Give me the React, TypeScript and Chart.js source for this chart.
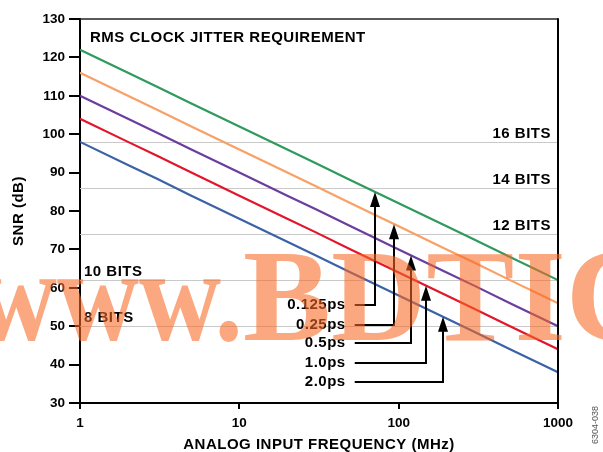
import React, { useEffect, useRef } from 'react';
import { Chart, registerables } from 'chart.js';

Chart.register(...registerables);

// ---------- data ----------
const freqs = [1, 2, 3, 5, 10, 20, 30, 50, 100, 200, 300, 500, 1000];
const jitterLabels = ['0.125ps', '0.25ps', '0.5ps', '1.0ps', '2.0ps'];
const snr0125 = [122, 116, 112.5, 108, 102, 96, 92.5, 88, 82, 76, 72.5, 68, 62];
const snr025 = [116, 110, 106.5, 102, 96, 90, 86.5, 82, 76, 70, 66.5, 62, 56];
const snr05 = [110, 104, 100.5, 96, 90, 84, 80.5, 76, 70, 64, 60.5, 56, 50];
const snr10 = [104, 98, 94.5, 90, 84, 78, 74.5, 70, 64, 58, 54.5, 50, 44];
const snr20 = [98, 92, 88.5, 84, 78, 72, 68.5, 64, 58, 52, 48.5, 44, 38];
const bitLabels = ['16 BITS', '14 BITS', '12 BITS', '10 BITS', '8 BITS'];
const bitSnr = [98, 86, 74, 62, 50];
const xTickValues = [1, 10, 100, 1000];

const seriesList = [snr0125, snr025, snr05, snr10, snr20];
const colors = ['#2e9a5c', '#f8a065', '#6a3d9e', '#e3152b', '#3b62a6'];

// annotation placement (data coordinates)
const arrowFreq = [71, 94, 120, 149, 190];
const arrowRowSnr = [55.6, 50.3, 45.5, 40.4, 35.5];
const arrowStartFreq = 53;
const labelRightFreq = 46.5;

const FONT = "'Liberation Sans', Arial, Helvetica, sans-serif";
const TEXT_FONT = `bold 15px ${FONT}`;
const SPACING = '0.5px';

function interpLog(series: number[], f: number) {
  const lf = Math.log10(f);
  for (let i = 0; i < freqs.length - 1; i++) {
    const a = Math.log10(freqs[i]);
    const b = Math.log10(freqs[i + 1]);
    if (lf >= a && lf <= b) {
      const t = (lf - a) / (b - a);
      return series[i] + t * (series[i + 1] - series[i]);
    }
  }
  return series[series.length - 1];
}

const overlayPlugin = {
  id: 'overlay',
  beforeDatasetsDraw(chart: any) {
    const { ctx, chartArea, scales } = chart;
    const y = scales.y;
    ctx.save();
    ctx.strokeStyle = '#c9c9c9';
    ctx.lineWidth = 1.2;
    bitSnr.forEach((v) => {
      const py = Math.round(y.getPixelForValue(v)) + 0.5;
      ctx.beginPath();
      ctx.moveTo(chartArea.left, py);
      ctx.lineTo(chartArea.right, py);
      ctx.stroke();
    });
    ctx.restore();
  },
  afterDatasetsDraw(chart: any) {
    const { ctx, chartArea, scales } = chart;
    const x = scales.x;
    const y = scales.y;
    ctx.save();
    ctx.fillStyle = '#000';
    ctx.font = TEXT_FONT;
    (ctx as any).letterSpacing = SPACING;
    // title inside
    ctx.textAlign = 'left';
    ctx.textBaseline = 'alphabetic';
    ctx.fillText('RMS CLOCK JITTER REQUIREMENT', chartArea.left + 10, chartArea.top + 23);
    // bit labels
    bitSnr.forEach((v, i) => {
      const py = y.getPixelForValue(v) - 4;
      if (i < 3) {
        ctx.textAlign = 'right';
        ctx.fillText(bitLabels[i], chartArea.right - 7, py);
      } else {
        ctx.textAlign = 'left';
        ctx.fillText(bitLabels[i], chartArea.left + 4, py);
      }
    });
    // arrows
    ctx.strokeStyle = '#000';
    ctx.lineWidth = 2;
    const x0 = x.getPixelForValue(arrowStartFreq);
    const lx = x.getPixelForValue(labelRightFreq);
    jitterLabels.forEach((lab, i) => {
      const ax = Math.round(x.getPixelForValue(arrowFreq[i]));
      const ry = Math.round(y.getPixelForValue(arrowRowSnr[i]));
      const tipY = y.getPixelForValue(interpLog(seriesList[i], arrowFreq[i]));
      const headH = 15;
      const headW = 5;
      ctx.beginPath();
      ctx.moveTo(x0, ry);
      ctx.lineTo(ax, ry);
      ctx.lineTo(ax, tipY + headH - 2);
      ctx.stroke();
      ctx.beginPath();
      ctx.moveTo(ax, tipY);
      ctx.lineTo(ax - headW, tipY + headH);
      ctx.lineTo(ax + headW, tipY + headH);
      ctx.closePath();
      ctx.fill();
      ctx.textAlign = 'right';
      ctx.textBaseline = 'middle';
      ctx.fillText(lab, lx, ry);
      ctx.textBaseline = 'alphabetic';
    });
    // frame: top and right
    ctx.strokeStyle = '#222';
    ctx.lineWidth = 1.5;
    ctx.beginPath();
    ctx.moveTo(chartArea.left, chartArea.top);
    ctx.lineTo(chartArea.right, chartArea.top);
    ctx.stroke();
    ctx.strokeStyle = '#000';
    ctx.lineWidth = 2;
    ctx.beginPath();
    ctx.moveTo(chartArea.right, chartArea.top - 0.75);
    ctx.lineTo(chartArea.right, chartArea.bottom);
    ctx.stroke();
    ctx.restore();
  },
  afterDraw(chart: any) {
    const { ctx, width, height, chartArea } = chart;
    // axis titles
    ctx.save();
    ctx.fillStyle = '#000';
    ctx.font = TEXT_FONT;
    (ctx as any).letterSpacing = SPACING;
    ctx.textAlign = 'center';
    ctx.textBaseline = 'middle';
    ctx.fillText('ANALOG INPUT FREQUENCY (MHz)', (chartArea.left + chartArea.right) / 2, 445);
    ctx.save();
    ctx.translate(19, (chartArea.top + chartArea.bottom) / 2);
    ctx.rotate(-Math.PI / 2);
    ctx.fillText('SNR (dB)', 0, 0);
    ctx.restore();
    ctx.restore();
    // figure code
    ctx.save();
    ctx.fillStyle = '#555';
    ctx.font = `9px 'Liberation Sans Narrow', ${FONT}`;
    ctx.translate(width - 7, height - 27);
    ctx.rotate(-Math.PI / 2);
    ctx.textAlign = 'center';
    ctx.textBaseline = 'middle';
    ctx.fillText('6304-038', 0, 0);
    ctx.restore();
    // watermark
    ctx.save();
    ctx.fillStyle = 'rgba(248,104,34,0.58)';
    ctx.font = "bold 132px 'Liberation Serif', 'Times New Roman', serif";
    ctx.textBaseline = 'alphabetic';
    ctx.textAlign = 'left';
    ctx.save();
    ctx.translate(243, 340);
    ctx.scale(0.86, 1);
    ctx.textAlign = 'right';
    ctx.fillText('www.', 0, 0);
    ctx.restore();
    ctx.fillText('BDTIC', 243, 340);
    ctx.restore();
  },
};

export default function App() {
  const ref = useRef<HTMLCanvasElement | null>(null);
  useEffect(() => {
    if (!ref.current) return;
    const tickFont = { family: FONT, size: 13.5, weight: 'bold' };
    const chart = new Chart(ref.current, {
      type: 'line',
      data: {
        datasets: seriesList.map((s, i) => ({
          label: jitterLabels[i],
          data: freqs.map((f, j) => ({ x: f, y: s[j] })),
          borderColor: colors[i],
          backgroundColor: colors[i],
          borderWidth: 2.2,
          pointRadius: 0,
          tension: 0,
          fill: false,
        })),
      },
      options: {
        responsive: false,
        animation: false,
        maintainAspectRatio: false,
        layout: { padding: { left: 0, top: 19, right: 45, bottom: 0 } },
        plugins: {
          legend: { display: false },
          tooltip: { enabled: false },
          title: { display: false },
        },
        scales: {
          x: {
            type: 'logarithmic',
            min: 1,
            max: 1000,
            afterBuildTicks: (scale: any) => {
              scale.ticks = xTickValues.map((v) => ({ value: v, major: true }));
            },
            afterFit: (scale: any) => {
              scale.height = 49;
            },
            grid: {
              drawOnChartArea: false,
              drawTicks: true,
              tickLength: 6,
              color: '#000',
              lineWidth: 2,
            },
            border: { display: true, color: '#000', width: 2 },
            ticks: {
              autoSkip: false,
              maxRotation: 0,
              padding: 6,
              color: '#000',
              font: tickFont,
              callback: (v: any) => String(v),
            },
          },
          y: {
            min: 30,
            max: 130,
            afterFit: (scale: any) => {
              scale.width = 80;
            },
            grid: {
              drawOnChartArea: false,
              drawTicks: true,
              tickLength: 11,
              color: '#000',
              lineWidth: 2,
            },
            border: { display: true, color: '#000', width: 2 },
            ticks: {
              stepSize: 10,
              padding: 4,
              color: '#000',
              font: tickFont,
            },
          },
        },
      },
      plugins: [overlayPlugin],
    } as any);
    return () => chart.destroy();
  }, []);
  return (
    <div style={{ position: 'absolute', left: 0, top: 0, width: 603, height: 452, background: '#fff' }}>
      <canvas ref={ref} width={603} height={452} style={{ display: 'block' }} />
    </div>
  );
}
